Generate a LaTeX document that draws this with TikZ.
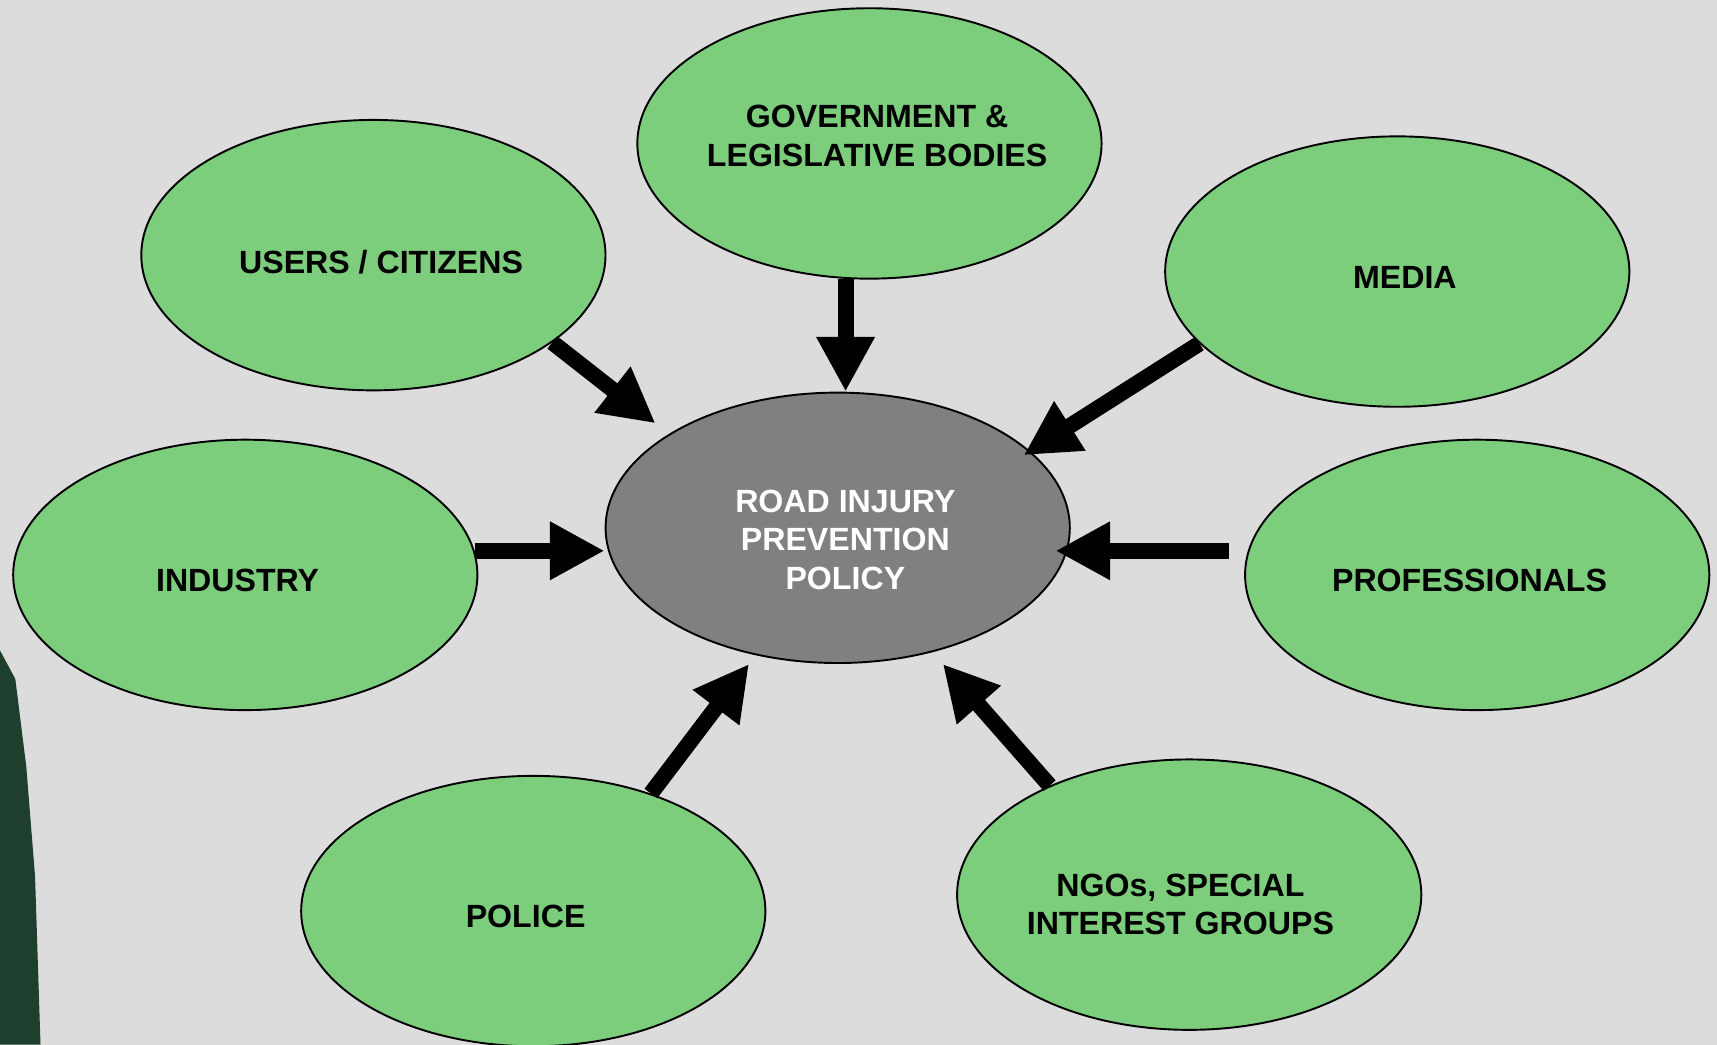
\documentclass[tikz,border=0pt]{standalone}
\usepackage{fontspec}
\setmainfont{Liberation Sans}
\usetikzlibrary{arrows.meta,shapes.geometric}

\definecolor{bubblegreen}{RGB}{124,205,124}
\definecolor{hubgray}{RGB}{128,128,128}
\definecolor{paper}{RGB}{220,220,220}
\definecolor{edgegreen}{RGB}{30,62,46}

\tikzset{
	bubble/.style={ellipse, draw=black, line width=1pt, fill=bubblegreen, minimum width=8.48cm, minimum height=4.94cm, inner sep=0pt},
	hub/.style={bubble, fill=hubgray},
	tag/.style={align=center, inner sep=0pt, font=\fontsize{16.7}{20}\selectfont\bfseries},
	arrow/.style={-{Triangle[length=1cm,width=1cm]}, line width=0.29cm}
}

\begin{document}
\begin{tikzpicture}[x=0.02cm, y=-0.02cm]
\useasboundingbox (0,0) rectangle (1568,954);
\fill[paper] (0,0) rectangle (1568,954);
\fill[edgegreen] (0,594) -- (14,620) -- (24,700) -- (32,800) -- (37,954) -- (0,954) -- cycle;

\node (hub) at (765,482) [hub] {};
\node (gov) at (794,131) [bubble] {};
\node (users) at (341,233) [bubble] {};
\node (media) at (1276,248) [bubble] {};
\node (industry) at (224,525) [bubble] {};
\node (pros) at (1349,525) [bubble] {};
\node (police) at (487,832) [bubble] {};
\node (ngos) at (1086,817) [bubble] {};

% labels sit a little off the centres
\node (hubtext) at ([shift={(7,11)}]hub) [tag, text=white] {ROAD INJURY\\PREVENTION\\POLICY};
\node (govtext) at ([shift={(7,-7)}]gov) [tag] {GOVERNMENT \&\\LEGISLATIVE BODIES};
\node (userstext) at ([shift={(7,6)}]users) [tag] {USERS / CITIZENS};
\node (mediatext) at ([shift={(7,5)}]media) [tag] {MEDIA};
\node (industrytext) at ([shift={(-7,5)}]industry) [tag] {INDUSTRY};
\node (prostext) at ([shift={(-7,5)}]pros) [tag] {PROFESSIONALS};
\node (policetext) at ([shift={(-7,5)}]police) [tag] {POLICE};
\node (ngostext) at ([shift={(-8,9)}]ngos) [tag] {NGOs, SPECIAL\\INTEREST GROUPS};

\draw [arrow] (users.-26) to ([shift={(-15,-8)}]hub.150);
\draw [arrow] (gov.-100) to (gov.-100 |- hub.north);
\draw [arrow] (media.200) to ([shift={(-8,2)}]hub.21);
\draw [arrow] (industry.6) to (industry.6 -| hub.west);
\draw [arrow, shorten <=0.34cm, shorten >=-0.28cm] (pros.174) to (pros.174 -| hub.east);
\draw [arrow] (police.45) to ([xshift=-1.62cm]hub.south);
\draw [arrow] (ngos.142) to ([xshift=1.92cm]hub.south);
\end{tikzpicture}
\end{document}
